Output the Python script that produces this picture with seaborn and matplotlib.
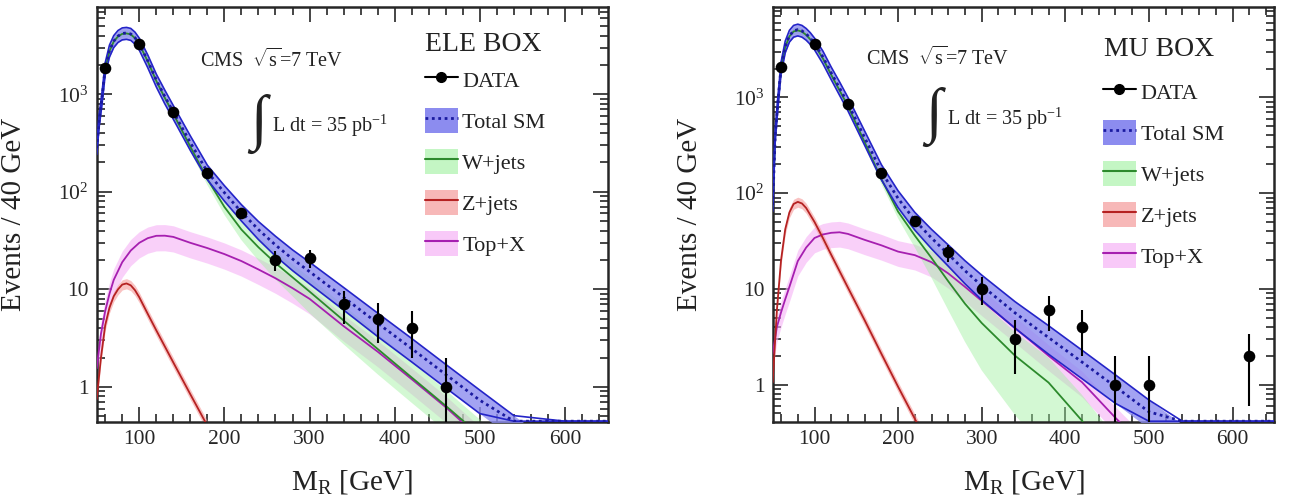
import numpy as np
import matplotlib
matplotlib.use("Agg")
import matplotlib.pyplot as plt
import seaborn as sns
from matplotlib.lines import Line2D
from matplotlib.patches import Patch
from matplotlib.ticker import MultipleLocator, LogLocator, FixedLocator, FixedFormatter, NullFormatter

# ---- data ----
data_x_ele = [60, 100, 140, 180, 220, 260, 300, 340, 380, 420, 460]
data_y_ele = [1870, 3270, 661, 157, 60, 20, 21, 7, 5, 4, 1]
data_err_ele = [43, 57, 26, 12.5, 7.7, 4.5, 4.6, 2.6, 2.2, 2.0, 1.0]

data_x_mu = [60, 100, 140, 180, 220, 260, 300, 340, 380, 420, 460, 500, 620]
data_y_mu = [2070, 3630, 855, 161, 51, 24, 10, 3, 6, 4, 1, 1, 2]
data_err_mu = [45, 60, 29, 12.7, 7.1, 4.9, 3.2, 1.7, 2.4, 2.0, 1.0, 1.0, 1.4]

grid_x = [50, 53, 56, 60, 65, 70, 75, 80, 85, 90, 95, 100, 110, 120, 130, 140, 160, 180, 200, 220,
          240, 260, 280, 300, 340, 380, 420, 460, 500, 540, 600, 650]

ele_total = [280, 550, 880, 1850, 2800, 3500, 3950, 4200, 4250, 4150, 3800, 3300, 2200, 1400, 950, 660, 320, 160, 98, 62,
             41, 28.5, 20.5, 15.2, 8.3, 4.5, 2.47, 1.34, 0.73, 0.40, 0.17, 0.07]
ele_total_err = [0.14, 0.14, 0.14, 0.14, 0.14, 0.14, 0.14, 0.14, 0.14, 0.14, 0.14, 0.14, 0.15, 0.15, 0.16, 0.16, 0.17, 0.17, 0.18, 0.19,
                 0.21, 0.23, 0.24, 0.25, 0.26, 0.27, 0.27, 0.27, 0.27, 0.27, 0.27, 0.27]
ele_wjets = [270, 540, 860, 1820, 2770, 3470, 3915, 4160, 4205, 4110, 3760, 3265, 2170, 1370, 920, 630, 290, 135, 70, 41,
             27, 18.6, 13.3, 9.5, 4.8, 2.45, 1.25, 0.64, 0.32, 0.16, 0.06, 0.025]
ele_wjets_err = [0.08, 0.08, 0.08, 0.08, 0.08, 0.08, 0.08, 0.08, 0.08, 0.08, 0.08, 0.08, 0.08, 0.08, 0.08, 0.08, 0.1, 0.13, 0.17, 0.22,
                 0.27, 0.32, 0.36, 0.4, 0.43, 0.45, 0.45, 0.45, 0.45, 0.45, 0.45, 0.45]

mu_total = [75, 400, 850, 2050, 3400, 4400, 4950, 5100, 4950, 4600, 4150, 3650, 2650, 1800, 1250, 860, 380, 168, 88, 52,
            34, 23, 15.5, 10.8, 5.6, 3.1, 1.72, 0.95, 0.52, 0.29, 0.12, 0.06]
mu_total_err = [0.14, 0.14, 0.14, 0.14, 0.14, 0.14, 0.14, 0.14, 0.14, 0.14, 0.14, 0.14, 0.15, 0.15, 0.16, 0.16, 0.17, 0.18, 0.2, 0.21,
                0.23, 0.25, 0.27, 0.29, 0.31, 0.33, 0.33, 0.33, 0.33, 0.33, 0.33, 0.33]
mu_wjets = [72, 395, 840, 2020, 3360, 4340, 4880, 5010, 4850, 4490, 4030, 3530, 2550, 1720, 1180, 810, 340, 140, 64, 36,
            21, 12, 7.0, 4.4, 2.0, 1.05, 0.42, 0.15, 0.06, 0.02, 0.01, 0.005]
mu_wjets_err = [0.08, 0.08, 0.08, 0.08, 0.08, 0.08, 0.08, 0.08, 0.08, 0.08, 0.08, 0.08, 0.08, 0.08, 0.08, 0.08, 0.09, 0.11, 0.15, 0.25,
                0.38, 0.5, 0.6, 0.68, 0.76, 0.82, 0.86, 0.88, 0.88, 0.88, 0.88, 0.88]

top_x = [50, 55, 60, 65, 70, 80, 90, 100, 110, 120, 130, 140, 160, 180, 200, 220, 240, 260, 280, 300, 340, 380, 420, 460, 500]
ele_top = [1.55, 3.5, 6.0, 9.0, 12.5, 19, 25, 30, 33.5, 35.4, 35.5, 34.5, 30, 26.5, 23, 19.5, 16, 13, 10.3, 8.0, 4.2, 2.3, 1.2, 0.62, 0.3]
mu_top = [2.1, 4.0, 5.7, 7.8, 10.5, 19.5, 27, 34, 37, 38.5, 39, 37.5, 32.5, 28.5, 24.5, 22.5, 19, 14.5, 10.5, 7.5, 3.9, 2.0, 1.06, 0.45, 0.2]
top_err = [0.3, 0.3, 0.3, 0.3, 0.3, 0.3, 0.3, 0.3, 0.3, 0.3, 0.3, 0.3, 0.3, 0.3, 0.3, 0.3, 0.3, 0.3, 0.3, 0.3, 0.3, 0.3, 0.3, 0.3, 0.3]

ele_z_x = [50, 55, 60, 65, 70, 75, 80, 85, 90, 95, 100, 110, 120, 140, 160, 180, 190]
ele_z = [0.75, 2.0, 4.3, 6.5, 8.5, 10.0, 11.2, 11.5, 11.0, 9.8, 8.3, 5.6, 3.8, 1.78, 0.84, 0.40, 0.28]
mu_z_x = [50, 55, 60, 65, 70, 75, 80, 85, 90, 100, 110, 120, 140, 160, 180, 200, 220, 230]
mu_z = [1.06, 6.0, 20, 42, 63, 77, 81, 78, 70, 50, 34, 22.7, 10.3, 4.7, 2.1, 0.95, 0.44, 0.3]
z_err = 0.12

legend_labels = ["DATA", "Total SM", "W+jets", "Z+jets", "Top+X"]

# colours
C_TOT_FILL = "#8c8cef"
C_TOT_EDGE = "#2424c8"
C_TOT_MID = "#1a1aa0"
C_W = "#2c8a2c"
C_W_FILL = "#9ef09e"
C_Z = "#b52222"
C_Z_FILL = "#f59a9a"
C_TOP = "#a61fb0"
C_TOP_FILL = "#f6b2f6"


def band(ax, x, y, err, color, alpha, z):
    y = np.asarray(y, dtype=float)
    e = np.asarray(err, dtype=float)
    ax.fill_between(x, y * (1 - e), y * (1 + e), color=color, alpha=alpha, lw=0, zorder=z)


def line(ax, x, y, color, lw=1.3, ls="-", z=5):
    sns.lineplot(x=x, y=y, ax=ax, color=color, lw=lw, linestyle=ls, sort=False,
                 estimator=None, legend=False, zorder=z)


def draw_panel(ax, ylim, title, total, total_err, wjets, wjets_err, top, zx, zy,
               dx, dy, derr, leg_anchor, title_pos, cms_pos, int_pos):
    ymin = ylim[0] * 1.012
    band(ax, top_x, top, top_err, C_TOP_FILL, 0.6, 1)
    band(ax, grid_x, wjets, wjets_err, C_W_FILL, 0.45, 1.5)
    band(ax, zx, zy, [z_err] * len(zx), C_Z_FILL, 0.6, 2)

    tot = np.asarray(total, dtype=float)
    te = np.asarray(total_err, dtype=float)
    ax.fill_between(grid_x, tot * (1 - te), tot * (1 + te), color=C_TOT_FILL, alpha=0.8, lw=0, zorder=3)

    line(ax, top_x, top, C_TOP, z=4)
    line(ax, grid_x, wjets, C_W, z=4)
    line(ax, zx, zy, C_Z, z=4)
    line(ax, grid_x, np.maximum(tot * (1 + te), ymin), C_TOT_EDGE, lw=1.2, z=5)
    line(ax, grid_x, np.maximum(tot * (1 - te), ymin), C_TOT_EDGE, lw=1.2, z=5)
    ax.plot(grid_x, np.maximum(tot, ymin), color=C_TOT_MID, lw=2.0, ls=(0, (1, 1.3)), zorder=6)

    dy = np.asarray(dy, dtype=float)
    derr = np.asarray(derr, dtype=float)
    lo = np.minimum(derr, dy - 1e-3)
    ax.errorbar(dx, dy, yerr=[lo, derr], fmt="none", ecolor="black", elinewidth=1.5, capsize=0, zorder=7)
    sns.scatterplot(x=dx, y=dy, ax=ax, color="black", s=70, edgecolor="black", linewidth=0, zorder=8, legend=False)

    ax.set_yscale("log")
    ax.set_xlim(50, 650)
    ax.set_ylim(*ylim)
    ax.xaxis.set_major_locator(MultipleLocator(100))
    ax.xaxis.set_minor_locator(MultipleLocator(20))
    ax.yaxis.set_major_locator(FixedLocator([1, 10, 100, 1000]))
    ax.yaxis.set_major_formatter(FixedFormatter(["1", "10", r"$10^{2}$", r"$10^{3}$"]))
    ax.yaxis.set_minor_locator(LogLocator(base=10, subs=np.arange(2, 10)))
    ax.yaxis.set_minor_formatter(NullFormatter())
    ax.tick_params(which="both", direction="in", top=True, right=True, labelsize=15.5, width=1.2)
    ax.tick_params(which="major", length=11, pad=6)
    ax.tick_params(which="minor", length=6)
    for s in ax.spines.values():
        s.set_linewidth(1.8)

    ax.set_xlabel(r"M$_{\mathrm{R}}$ [GeV]", fontsize=21, labelpad=14)
    ax.set_ylabel("Events / 40 GeV", fontsize=21, labelpad=22)

    ax.text(cms_pos[0], cms_pos[1], r"CMS  $\sqrt{\mathrm{s}}$=7 TeV", transform=ax.transAxes,
            fontsize=14.5, va="center", ha="left")
    ax.text(int_pos[0], int_pos[1], r"$\int$", transform=ax.transAxes, fontsize=44, va="center", ha="center")
    ax.text(int_pos[0] + 0.026, int_pos[1] - 0.005, r"L dt = 35 pb$^{\mathrm{-1}}$", transform=ax.transAxes,
            fontsize=14.5, va="center", ha="left")
    ax.text(title_pos[0], title_pos[1], title, transform=ax.transAxes, fontsize=20, va="center", ha="left")

    handles = [
        Line2D([], [], color="black", marker="o", ms=7, lw=1.5),
        (Patch(facecolor=C_TOT_FILL, edgecolor="none"), Line2D([], [], color=C_TOT_MID, lw=2.0, ls=(0, (1, 1.3)))),
        (Patch(facecolor=C_W_FILL, edgecolor="none", alpha=0.6), Line2D([], [], color=C_W, lw=1.5)),
        (Patch(facecolor=C_Z_FILL, edgecolor="none", alpha=0.7), Line2D([], [], color=C_Z, lw=1.5)),
        (Patch(facecolor=C_TOP_FILL, edgecolor="none", alpha=0.7), Line2D([], [], color=C_TOP, lw=1.5)),
    ]
    leg = ax.legend(handles, legend_labels, loc="upper left", bbox_to_anchor=leg_anchor,
                    frameon=False, fontsize=16, handlelength=1.5, handleheight=1.3,
                    handletextpad=0.2, labelspacing=0.74, borderpad=0, borderaxespad=0)
    leg.set_zorder(10)


sns.set_theme(style="ticks")
plt.rcParams["font.family"] = ["Liberation Serif", "DejaVu Serif"]
plt.rcParams["mathtext.fontset"] = "custom"
plt.rcParams["mathtext.rm"] = "Liberation Serif"
plt.rcParams["mathtext.it"] = "Liberation Serif:italic"
plt.rcParams["text.color"] = "#222222"
plt.rcParams["axes.labelcolor"] = "#222222"

fig = plt.figure(figsize=(12.9, 4.98), dpi=100)
ax1 = fig.add_axes([96.7 / 1290, 1 - 421.7 / 498, 510.8 / 1290, 415 / 498])
ax2 = fig.add_axes([772.7 / 1290, 1 - 421.7 / 498, 501.6 / 1290, 415 / 498])

draw_panel(ax1, (0.44, 7900), "ELE BOX", ele_total, ele_total_err, ele_wjets, ele_wjets_err, ele_top,
           ele_z_x, ele_z, data_x_ele, data_y_ele, data_err_ele,
           (0.642, 0.854), (0.642, 0.910), (0.202, 0.872), (0.318, 0.717))
draw_panel(ax2, (0.41, 8850), "MU BOX", mu_total, mu_total_err, mu_wjets, mu_wjets_err, mu_top,
           mu_z_x, mu_z, data_x_mu, data_y_mu, data_err_mu,
           (0.658, 0.825), (0.660, 0.897), (0.187, 0.876), (0.322, 0.734))

fig.savefig("out.png", dpi=100)
